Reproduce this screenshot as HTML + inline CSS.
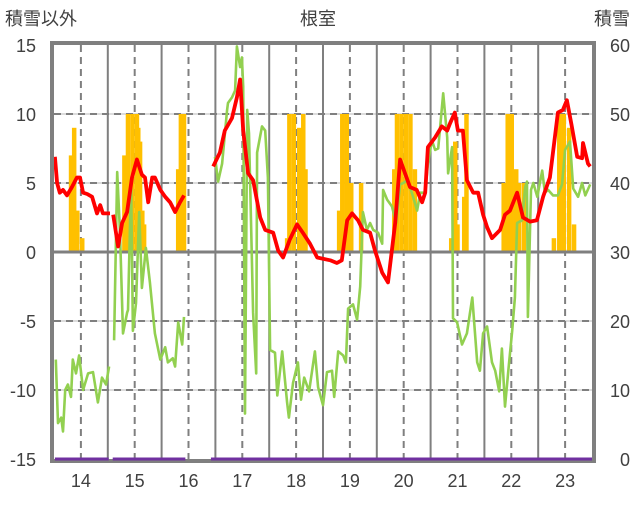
<!DOCTYPE html>
<html><head><meta charset="utf-8"><style>
body{margin:0;background:#fff;}
svg text{font-family:"Liberation Sans","Noto Sans CJK JP",sans-serif;fill:#404040;}
</style></head><body>
<svg id="chart" width="636" height="501" viewBox="0 0 636 501" xmlns="http://www.w3.org/2000/svg">
<text x="5" y="25" font-size="18">積雪以外</text>
<text x="318" y="25" font-size="18" text-anchor="middle">根室</text>
<text x="630" y="25" font-size="18" text-anchor="end">積雪</text>
<g id="grid"></g><g id="bars"></g><g id="lines"></g><g id="frame"></g><g id="labels"></g>
</svg>
<script>
const yearLabels=["14","15","16","17","18","19","20","21","22","23"];
const leftTicks=[15,10,5,0,-5,-10,-15];
const rightTicks=[60,50,40,30,20,10,0];
const snowMonths=[3.3,4.0,4.7,5.8,15.2,16,17,18,18.3,18.7,19.2,19.6,27.2,27.8,28.5,51.5,52,53,54.2,55.1,55.6,63.1,63.8,64.8,65.8,68.0,75.4,76,77,78,79,80,88.1,89,89.5,91,91.5,99.8,100.7,101.6,102.6,103.2,104.3,111,112.2,113.2,114.4,115.5];
const snowValues=[44,48,36,32,44,50,50,50,48,46,36,34,42,50,50,32,50,50,48,50,42,36,50,50,40,40,42,50,50,50,50,42,32,46,34,38,50,40,50,50,42,40,40,32,50,50,48,34];
const redSegments=[
[[0.2,6.9],[0.7,5.0],[1.3,4.3],[2.0,4.5],[2.9,4.1],[4.0,4.7],[5.1,5.4],[5.8,5.4],[6.5,4.3],[7.4,4.2],[8.5,4.0],[9.6,2.8],[10.3,3.4],[10.9,2.8],[12.5,2.8]],
[[13.2,2.7],[14.3,0.4],[15.2,2.1],[16.3,2.9],[17.4,5.4],[18.5,6.7],[19.6,5.6],[20.3,5.4],[21.0,3.6],[21.9,5.4],[22.5,5.4],[23.7,4.5],[24.8,4.0],[25.9,3.6],[27.0,2.9],[28.1,3.6],[29.0,4.1]],
[[35.5,6.2],[37.0,7.2],[38.1,8.8],[39.7,9.7],[40.8,11.2],[41.5,12.5],[42.2,8.8],[43.3,5.7],[44.4,5.2],[46.0,2.5],[47.1,1.6],[48.9,1.4],[50.0,0.1],[51.1,-0.4],[52.6,0.9],[54.2,2.0],[55.5,1.4],[57.1,0.6],[58.7,-0.4],[61.6,-0.6],[63.1,-0.8],[64.2,-0.6],[65.4,2.3],[66.5,2.8],[67.8,2.3],[68.9,1.6],[70.5,1.4],[71.6,0.1],[73.2,-1.5],[74.5,-2.2],[76.1,2.1],[77.2,6.7],[78.3,5.7],[79.4,4.7],[80.9,4.5],[82.1,3.6],[82.8,4.3],[83.4,7.6],[85.0,8.3],[86.5,9.1],[87.7,8.8],[88.3,9.3],[89.4,10.1],[90.1,8.8],[91.2,8.8],[92.1,5.2],[93.5,4.3],[94.6,4.3],[95.7,2.7],[96.6,1.8],[97.7,1.0],[99.5,1.6],[100.6,2.7],[101.7,3.0],[103.3,4.3],[104.6,2.5],[106.2,2.2],[107.7,2.3],[109.1,4.0],[110.6,5.4],[112.4,10.1],[113.5,10.3],[114.4,11.0],[115.5,9.1],[116.7,6.9],[117.8,6.8],[118.0,7.9],[119.1,6.4],[119.6,6.2]]
];
const greenSegments=[
[[0.4,-7.8],[0.9,-12.4],[1.6,-12.0],[2.0,-13.0],[2.5,-10.0],[3.1,-9.6],[3.8,-10.5],[4.2,-7.8],[4.9,-8.8],[5.6,-7.5],[6.5,-10.0],[7.6,-8.8],[8.7,-8.7],[9.8,-10.9],[10.7,-9.1],[11.6,-9.6],[12.3,-8.3]],
[[13.4,-6.4],[14.1,5.8],[14.7,1.6],[15.4,-5.9],[16.3,-4.4],[16.5,-4.2],[17.2,5.2],[17.6,-5.7],[18.3,-3.7],[19.0,2.9],[19.6,-2.6],[20.5,0.3],[21.4,-2.2],[22.5,-5.9],[23.7,-7.8],[24.8,-6.9],[25.4,-8.0],[26.5,-7.7],[27.0,-8.3],[27.7,-5.1],[28.6,-6.7],[29.0,-4.7]],
[[35.9,6.9],[36.6,5.1],[37.5,6.4],[38.6,10.3],[38.8,10.8],[39.7,11.2],[40.4,11.7],[40.8,14.9],[41.5,13.4],[41.9,14.1],[42.2,12.0],[42.6,-11.7],[43.1,10.3],[43.5,8.6],[44.4,-4.4],[45.1,-8.8],[45.3,7.2],[46.4,9.1],[47.1,8.8],[47.7,5.4],[48.2,-7.1],[49.3,-7.3],[49.8,-10.4],[50.9,-7.2],[52.0,-10.9],[52.4,-12.0],[53.3,-9.5],[54.4,-8.0],[55.1,-10.7],[55.8,-9.1],[56.9,-10.1],[58.2,-7.2],[58.9,-9.8],[60.0,-11.1],[60.9,-8.7],[62.0,-8.6],[62.5,-10.5],[63.4,-7.2],[64.5,-7.5],[65.1,-8.0],[65.6,-4.1],[66.7,-3.8],[67.6,-4.9],[68.3,-2.5],[68.9,2.9],[69.8,1.6],[70.5,2.1],[71.2,1.6],[72.3,1.4],[73.2,0.6],[73.4,4.5],[74.3,3.8],[75.4,3.3],[76.3,2.1],[77.2,4.9],[77.9,5.0],[78.8,5.2],[79.4,4.7],[80.1,4.0],[81.0,3.0],[81.7,4.3],[82.8,4.3],[83.4,6.4],[84.3,8.1],[85.0,7.4],[85.7,7.5],[86.8,11.5],[87.7,8.3],[87.9,5.7],[88.8,7.6],[89.0,-4.8],[89.9,-5.1],[91.0,-6.7],[92.1,-5.9],[93.3,-3.3],[94.4,-8.0],[95.0,-8.6],[95.7,-5.9],[96.6,-5.4],[97.7,-8.0],[98.4,-8.6],[99.3,-10.1],[99.9,-7.0],[100.6,-11.2],[101.5,-8.0],[102.2,-5.7],[102.8,-3.3],[103.3,2.1],[104.4,2.3],[105.1,4.7],[105.5,5.1],[105.7,-4.7],[106.4,4.5],[106.9,5.0],[107.8,4.0],[108.9,5.9],[109.5,4.3],[110.2,4.5],[111.3,4.1],[112.4,4.1],[113.3,4.9],[114.0,7.4],[115.1,8.0],[115.8,4.6],[116.9,4.0],[117.8,5.0],[118.5,4.1],[119.6,4.9]]
];
const purpleSegments=[[0.2,12.2],[13.1,29.3],[35.0,120]];

const X0=54,X1=592,YT=45,YB=459,M=120;
const xs=m=>X0+(X1-X0)*m/M;
const yl=v=>YB-(v+15)/30*(YB-YT);
const yr=v=>YB-v/60*(YB-YT);
const NS="http://www.w3.org/2000/svg";
function mk(tag,attrs,parent){const e=document.createElementNS(NS,tag);for(const k in attrs)e.setAttribute(k,attrs[k]);parent.appendChild(e);return e;}
const grid=document.getElementById('grid'),bars=document.getElementById('bars'),lines=document.getElementById('lines'),frame=document.getElementById('frame'),labels=document.getElementById('labels');

leftTicks.forEach(v=>{
  if(v===15||v===-15)return;
  const y=yl(v);
  if(v===0)return;
  const l1=mk('line',{x1:X0,x2:X1,y1:y,y2:y,stroke:'#d0d0d0','stroke-width':1.5},grid);
  
  
  const l=mk('line',{x1:X0,x2:X1,y1:y,y2:y,stroke:'#7f7f7f','stroke-width':2,'stroke-dasharray':'7,5'},grid);
  
  
});
for(let k=1;k<10;k++){
  const x=xs(k*12);
  const l=mk('line',{x1:x,x2:x,y1:YT,y2:YB,stroke:'#7f7f7f','stroke-width':2},grid);
  
  
}
yearLabels.forEach((t,i)=>{
  const x=xs(i*12+6);
  const l=mk('line',{x1:x,x2:x,y1:YT,y2:YB,stroke:'#7f7f7f','stroke-width':2,'stroke-dasharray':'7,5'},grid);
  
  
  const tx=mk('text',{x:x,y:487,'font-size':18,'text-anchor':'middle'},labels);
  tx.textContent=t;
  
  
});
snowMonths.forEach((m,i)=>{
  const v=snowValues[i];
  const y=yr(v),yb=yr(30);
  const r=mk('rect',{x:xs(m),y:Math.min(y,yb),width:xs(1)-X0,height:Math.abs(yb-y),fill:'#ffc000'},bars);
  
  
});
const z=mk('line',{x1:X0,x2:X1,y1:yl(0),y2:yl(0),stroke:'#7f7f7f','stroke-width':3},lines);


function path(seg,color,w,name){
  const d=seg.map((p,i)=>(i?'L':'M')+xs(p[0]).toFixed(1)+','+yl(p[1]).toFixed(1)).join('');
  const p=mk('path',{d:d,fill:'none',stroke:color,'stroke-width':w,'stroke-linejoin':'round'},lines);
  
  
}
greenSegments.forEach(s=>path(s,'#92d050',2.6,'green-series-line'));
redSegments.forEach(s=>path(s,'#ff0000',3.8,'red-series-line'));
const fr=mk('rect',{x:X0-2,y:YT-2,width:X1-X0+4,height:YB-YT+4,fill:'none',stroke:'#7f7f7f','stroke-width':4},frame);


purpleSegments.forEach(s=>{
  const l=mk('line',{x1:xs(s[0]),x2:xs(s[1]),y1:YB,y2:YB,stroke:'#7030a0','stroke-width':3},frame);
  
  
});
leftTicks.forEach(v=>{
  const t=mk('text',{x:36,y:yl(v)+7,'font-size':18,'text-anchor':'end'},labels);
  t.textContent=v;
  
  
});
rightTicks.forEach(v=>{
  const t=mk('text',{x:630,y:yr(v)+7,'font-size':18,'text-anchor':'end'},labels);
  t.textContent=v;
  
  
});
</script>
</body></html>
